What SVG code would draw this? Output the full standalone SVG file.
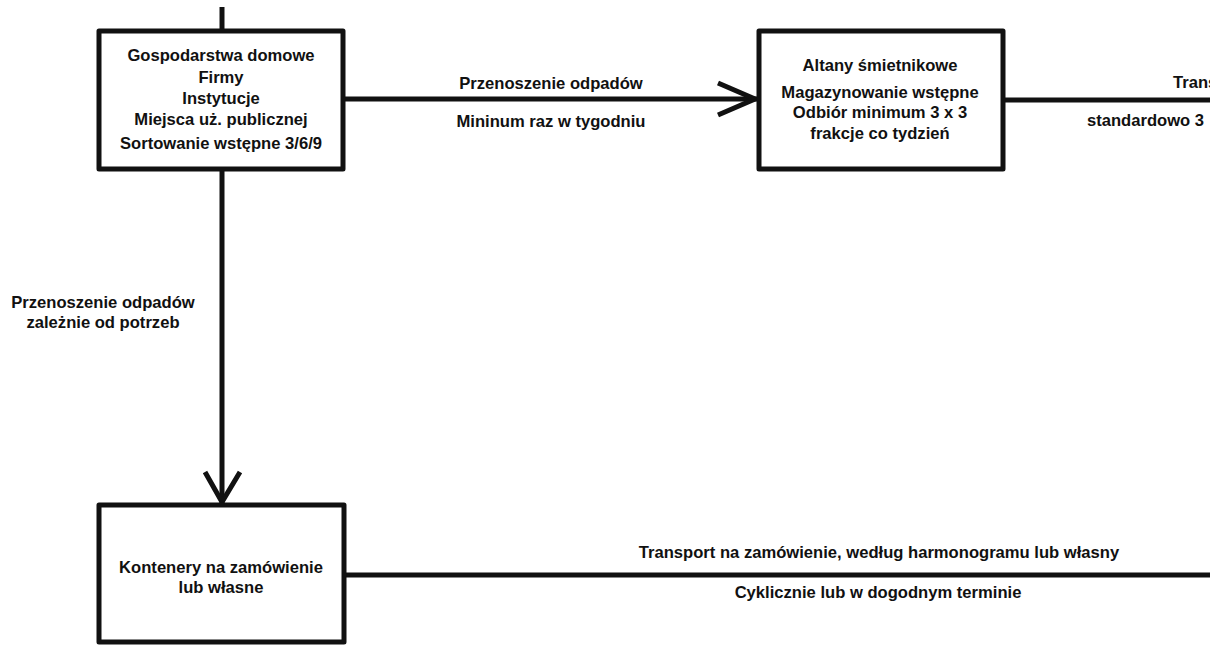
<svg xmlns="http://www.w3.org/2000/svg" width="1224" height="646" viewBox="0 0 1224 646">
<defs>
<style>
.box{fill:#fff;stroke:#111;stroke-width:5;stroke-linejoin:round}
.ln{fill:none;stroke:#111;stroke-width:5}
.ah{fill:none;stroke:#111;stroke-width:5;stroke-linejoin:miter}
text{font-family:"Liberation Sans",Arial,sans-serif;font-weight:bold;font-size:16.6px;fill:#111}
.c{text-anchor:middle}
</style>
<clipPath id="clip"><rect x="0" y="0" width="1210" height="646"/></clipPath>
</defs>
<rect width="1224" height="646" fill="#fff"/>
<g clip-path="url(#clip)">
<g id="connectors">
<line class="ln" x1="222" y1="7" x2="222" y2="31"/>
<line class="ln" x1="343" y1="99" x2="757" y2="99"/>
<polyline class="ah" points="718,83 755,99 718,115"/>
<line class="ln" x1="222" y1="169" x2="222" y2="505"/>
<polyline class="ah" points="205,472 222,502 240,472"/>
<line class="ln" x1="1003" y1="100" x2="1224" y2="100"/>
<line class="ln" x1="344" y1="575" x2="1224" y2="575"/>
<text class="c" x="551" y="89">Przenoszenie odpadów</text>
<text class="c" x="551" y="127">Mininum raz w tygodniu</text>
<text class="c" x="103" y="308">Przenoszenie odpadów</text>
<text class="c" x="103" y="328">zależnie od potrzeb</text>
<text x="1173" y="88">Trans</text>
<text x="1087" y="126">standardowo 3</text>
<text class="c" x="879" y="558">Transport na zamówienie, według harmonogramu lub własny</text>
<text class="c" x="878" y="598">Cyklicznie lub w dogodnym terminie</text>
</g>
<g id="node-sources">
<rect class="box" x="99" y="31" width="244" height="138"/>
<text class="c" x="221" y="61">Gospodarstwa domowe</text>
<text class="c" x="221" y="83">Firmy</text>
<text class="c" x="221" y="104">Instytucje</text>
<text class="c" x="221" y="125">Miejsca uż. publicznej</text>
<text class="c" x="221" y="149">Sortowanie wstępne 3/6/9</text>
</g>
<g id="node-altany">
<rect class="box" x="759" y="31" width="244" height="138"/>
<text class="c" x="880" y="71">Altany śmietnikowe</text>
<text class="c" x="880" y="98">Magazynowanie wstępne</text>
<text class="c" x="880" y="118">Odbiór minimum 3 x 3</text>
<text class="c" x="880" y="139">frakcje co tydzień</text>
</g>
<g id="node-kontenery">
<rect class="box" x="99" y="505" width="245" height="137"/>
<text class="c" x="221" y="573">Kontenery na zamówienie</text>
<text class="c" x="221" y="593">lub własne</text>
</g>
</g>
</svg>
